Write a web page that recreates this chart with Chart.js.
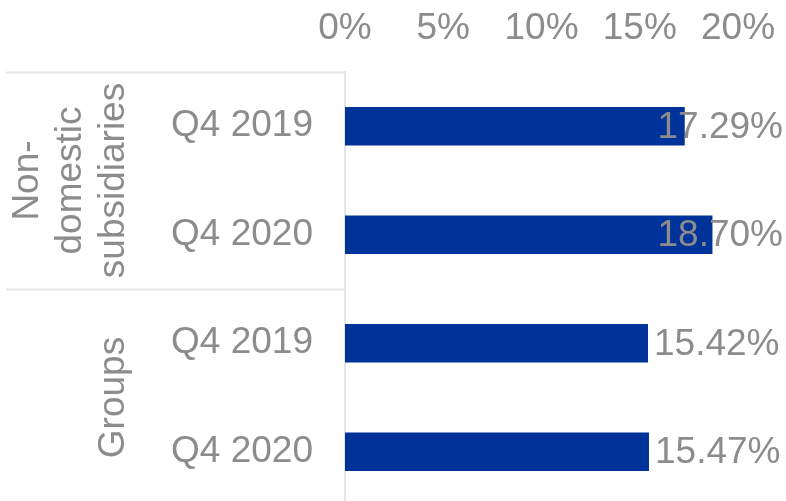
<!DOCTYPE html>
<html lang="en">

<head>
    <meta charset="UTF-8">
    <title>Non-domestic subsidiaries and groups</title>
    <script src="https://cdn.jsdelivr.net/npm/chart.js"></script>
    <style>
        html, body {
            margin: 0;
            padding: 0;
            overflow: hidden;
            background: #ffffff;
        }

        .chart-box {
            position: relative;
            width: 786px;
            height: 506px; /* a bit taller than the window, bottom row is cut like the reference */
        }
    </style>
</head>

<body>
    <div class="chart-box">
        <canvas id="shareChart"></canvas>
    </div>

    <script>
        // data
        const categories = ['Q4 2019', 'Q4 2020', 'Q4 2019', 'Q4 2020'];
        const values = [17.29, 18.70, 15.42, 15.47];
        const groupLabels = [['Non-', 'domestic', 'subsidiaries'], ['Groups']];
        const groupSizes = [2, 2];
        const xMin = 0;
        const xMax = 20;
        const xStep = 5;

        const textGrey = '#8c8c8c';
        const lineGrey = '#e6e6e6';
        const fontFamily = '"Liberation Sans", Arial, sans-serif';

        // value labels at the bar ends, pushed back inside the canvas if needed
        const valueLabels = {
            id: 'valueLabels',
            afterDatasetsDraw(chart) {
                const ctx = chart.ctx;
                const meta = chart.getDatasetMeta(0);
                ctx.save();
                ctx.font = '37px ' + fontFamily;
                ctx.fillStyle = textGrey;
                ctx.textAlign = 'left';
                ctx.textBaseline = 'middle';
                meta.data.forEach((bar, i) => {
                    const txt = values[i].toFixed(2) + '%';
                    const w = ctx.measureText(txt).width;
                    const x = Math.min(bar.x + 6, chart.width - 3 - w);
                    ctx.fillText(txt, x, bar.y + 1.5);
                });
                ctx.restore();
            }
        };

        // rotated group labels and the separator lines on the left
        const groupAxis = {
            id: 'groupAxis',
            afterDraw(chart) {
                const ctx = chart.ctx;
                const y = chart.scales.y;
                const area = chart.chartArea;
                const rowH = (area.bottom - area.top) / categories.length;
                ctx.save();
                ctx.strokeStyle = lineGrey;
                ctx.lineWidth = 2;
                let start = 0;
                groupSizes.forEach((size, g) => {
                    const top = y.getPixelForValue(start) - rowH / 2;
                    const bottom = y.getPixelForValue(start + size - 1) + rowH / 2;
                    ctx.beginPath();
                    ctx.moveTo(6, Math.round(top) + 0.5);
                    ctx.lineTo(area.left, Math.round(top) + 0.5);
                    ctx.stroke();

                    const lines = groupLabels[g];
                    ctx.save();
                    ctx.translate(113.5, (top + bottom) / 2);
                    ctx.rotate(-Math.PI / 2);
                    ctx.font = '37px ' + fontFamily;
                    ctx.fillStyle = textGrey;
                    ctx.textAlign = 'center';
                    ctx.textBaseline = 'middle';
                    lines.forEach((line, i) => {
                        ctx.fillText(line, 0, -(lines.length - 1 - i) * 43);
                    });
                    ctx.restore();
                    start += size;
                });
                ctx.restore();
            }
        };

        const ctx = document.getElementById('shareChart').getContext('2d');
        new Chart(ctx, {
            type: 'bar',
            data: {
                labels: categories,
                datasets: [{
                    data: values,
                    backgroundColor: '#003399',
                    borderWidth: 0,
                    barPercentage: 0.355,
                    categoryPercentage: 1
                }]
            },
            options: {
                indexAxis: 'y',
                responsive: true,
                maintainAspectRatio: false,
                animation: false,
                devicePixelRatio: 1,
                layout: {
                    padding: { left: 0, right: 48, top: 0, bottom: 0 }
                },
                plugins: {
                    legend: { display: false },
                    tooltip: { enabled: false }
                },
                scales: {
                    x: {
                        position: 'top',
                        min: xMin,
                        max: xMax,
                        grid: { display: false, drawTicks: false },
                        border: { display: false },
                        ticks: {
                            stepSize: xStep,
                            padding: 21,
                            color: textGrey,
                            font: { family: fontFamily, size: 37 },
                            callback: v => v + '%'
                        },
                        afterFit: s => {
                            s.height = 72;
                            s.paddingLeft = 0;
                            s.paddingRight = 0;
                        }
                    },
                    y: {
                        grid: { display: false, drawTicks: false },
                        border: { display: true, color: lineGrey, width: 2 },
                        ticks: {
                            padding: 32,
                            color: textGrey,
                            font: { family: fontFamily, size: 37 }
                        },
                        afterFit: s => {
                            s.width = 345;
                            s.paddingTop = 0;
                            s.paddingBottom = 0;
                        }
                    }
                }
            },
            plugins: [valueLabels, groupAxis]
        });
    </script>
</body>

</html>
